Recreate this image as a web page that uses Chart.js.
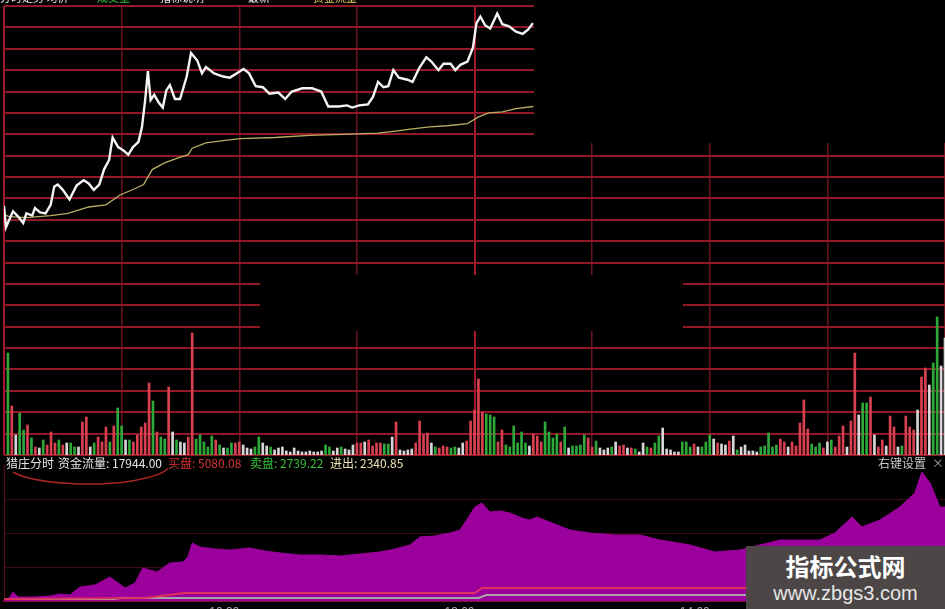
<!DOCTYPE html>
<html lang="zh-CN">
<head>
<meta charset="utf-8">
<title>猎庄分时</title>
<script src="https://cdn.jsdelivr.net/npm/chart.js@4.4.1/dist/chart.umd.min.js"></script>
<style>
html, body { margin:0; padding:0; background:#000; }
body { width:945px; height:609px; overflow:hidden; position:relative; font-family:"Noto Sans CJK SC", "Noto Sans", sans-serif; }
canvas { position:absolute; left:0; }
#priceChart { top:0; }
#flowChart { top:456px; }
.txt { position:absolute; font-size:12px; line-height:14px; white-space:nowrap; }
.head { position:absolute; top:-9px; font-size:11px; line-height:13px; white-space:nowrap; }
#mark { position:absolute; left:746px; top:546px; width:199px; height:63px; background:#4c4646; }
#mark .t1 { position:absolute; left:0; width:199px; top:6px; text-align:center; color:#fff; font-size:24px; font-weight:bold; line-height:28px; }
#mark .t2 { position:absolute; left:0; width:199px; top:35px; text-align:center; color:#e6e6e6; font-size:20px; line-height:24px; font-family:"Liberation Sans", Arial, sans-serif; }
</style>
</head>
<body>
<canvas id="priceChart" width="945" height="457"></canvas>
<canvas id="flowChart" width="945" height="166"></canvas>

<span class="head" style="left:0;color:#e8e8e8">分时走势 均价</span>
<span class="head" style="left:97px;color:#3cc03c">成交量</span>
<span class="head" style="left:160px;color:#e8e8e8">指标说明</span>
<span class="head" style="left:248px;color:#e8e8e8">最新</span>
<span class="head" style="left:313px;color:#e8d060">资金流量</span>

<span class="txt" style="left:6px;top:456px;color:#e6e6e6">猎庄分时</span>
<span class="txt" style="left:58px;top:456px;color:#e6e6e6">资金流量: 17944.00</span>
<span class="txt" style="left:168px;top:456px;color:#d83232">买盘: 5080.08</span>
<span class="txt" style="left:250px;top:456px;color:#36c036">卖盘: 2739.22</span>
<span class="txt" style="left:330px;top:456px;color:#ece2b4">进出: 2340.85</span>
<span class="txt" style="left:878px;top:456px;color:#c8c8c8">右键设置</span>
<span class="txt" style="left:932px;top:456px;color:#a0a0a0">×</span>

<div id="mark"><div class="t1">指标公式网</div><div class="t2">www.zbgs3.com</div></div>

<script>
// minutes counted from 09:30 (0) to 15:00 (240), lunch break removed
const gridMinutes = [0, 30, 60, 90, 120, 150, 180, 210, 240];
const axisLabelMinutes = [60, 120, 180];
const axisLabels = ["10:30", "13:00", "14:00"];

// price line
const priceMinutes = [0,0.5,2.3,3.6,4.9,5.7,7.2,7.9,9.2,10.6,11.9,12.8,13.7,15.0,16.7,18.5,20.3,21.6,22.9,24.3,
    25.5,26.8,27.7,29.1,30.4,31.7,32.9,34.3,35.2,36.0,36.7,37.4,38.3,39.4,40.5,41.4,42.3,43.6,44.9,46.6,
    47.7,49.3,50.5,51.5,53.6,55.9,57.6,59.4,61.1,62.5,64.2,66.0,67.7,70.0,71.7,73.4,76.1,78.6,80.9,82.7,
    85.3,87.5,88.8,90.6,92.8,94.1,95.4,96.8,98.0,99.3,100.7,102.9,104.2,105.9,107.7,109.0,110.8,112.1,113.9,115.1,
    116.4,118.2,119.6,120.5,121.5,122.7,124.0,125.8,127.1,128.8,130.6,132.3,133.7,134.9];
const priceValues = [28.13,27.93,28.08,28.03,27.97,28.06,28.04,28.11,28.07,28.06,28.14,28.31,28.33,28.28,28.19,28.32,28.37,28.34,28.28,28.33,
    28.47,28.56,28.77,28.68,28.65,28.61,28.68,28.73,28.87,29.12,29.39,29.12,29.17,29.10,29.05,29.21,29.26,29.13,29.13,29.34,
    29.56,29.49,29.37,29.43,29.37,29.34,29.33,29.37,29.41,29.37,29.25,29.24,29.18,29.19,29.13,29.20,29.23,29.23,29.20,29.06,
    29.06,29.07,29.05,29.07,29.08,29.15,29.29,29.24,29.25,29.40,29.33,29.31,29.29,29.42,29.52,29.48,29.40,29.46,29.46,29.40,
    29.45,29.48,29.61,29.84,29.90,29.82,29.79,29.93,29.83,29.81,29.76,29.74,29.78,29.84];

// average price line
const avgMinutes = [0,1.3,5.7,11.9,16.3,21.6,26.0,29.5,33.9,35.6,37.8,40.8,44.4,47.0,48.0,51.5,55.9,60.3,69.1,77.9,
    86.5,95.4,99.8,104.2,108.5,113.0,118.2,120.9,123.6,127.1,130.6,135.0];
const avgValues = [28.05,28.03,28.02,28.04,28.06,28.12,28.14,28.23,28.30,28.33,28.47,28.53,28.58,28.61,28.67,28.72,28.74,28.76,28.77,28.79,
    28.80,28.81,28.83,28.85,28.87,28.88,28.90,28.96,29.00,29.01,29.04,29.06];

// volume per minute from 09:31, direction R up / G down / W flat
const volumeValues = [
    1020,490,200,420,250,300,170,80,70,150, 100,230,120,150,100,120,120,80,80,330,
    380,80,120,180,130,280,130,290,470,290, 150,150,130,200,280,320,720,540,230,180,
    160,680,230,150,130,120,180,1220,160,200, 130,80,190,150,100,70,70,120,120,130,
    100,70,60,80,180,120,90,80,50,70, 80,40,30,70,40,30,30,40,
    30,30,40,100,80,40,70,80,60,50, 100,120,120,130,150,90,120,120,110,110,
    180,330,50,40,50,60,120,340,200,220, 120,80,70,90,80,70,80,70,120,140,
    340,450,760,430,410,400,380,130,250,100, 80,290,120,230,120,90,210,190,130,330,
    230,170,210,130,280,70,90,90,100,200, 170,80,140,70,50,70,80,130,90,100,
    70,
    70,60,30,120,80,70,120,190,270,60, 50,30,30,130,130,80,110,80,80,130,
    200,160,120,110,100,140,190,50,80,100, 40,40,30,80,90,220,80,100,160,130,
    80,130,90,320,550,260,110,80,120,70, 130,150,80,190,290,80,340,1020,400,520,
    520,580,200,80,150,90,390,280,80,90, 390,280,250,450,780,870,700,920,1380,890,
    1170];
const volumeDir = (
    "GRWGGRGRWG" + "RRRGRWGGWR" + "RWGRRRGRGG" + "WGRRRRRGRG" + "GRWGWWRRGG" + "GGGRGWGGRR" + "WWWGGWWGWW" + "WWWWWWWW" +
    "WWWGGWWGWW" + "WRRWRRRRGG" + "WRWWWWRRRR" + "WGRRRGGWWR" + "RRRRGGGRRG" + "GGGGGWRRRG" + "GGGRGWGGGG" + "RRGWWWGWRR" + "W" +
    "RGWWGRGGWW" + "WWWGGGRWGG" + "GWRWWRWGWW" + "WWWGGGGGRR" + "WRRRRRGGGR" + "WGRRRWRRWG" + "GRWRRWRRWG" + "RRRWRRWGGW" + "W"
).split("");

// 资金流量 area
const flowMinutes = [0,1.3,2.3,3.6,7.9,11.7,14.3,16.8,19.4,23.2,27.0,30.9,33.4,35.4,39.0,42.3,45.7,46.9,48.0,50.0,
    53.8,57.6,62.7,66.6,70.4,75.5,80.6,85.7,90.8,95.9,99.7,103.5,106.1,109.9,113.7,116.3,118.3,120.1,121.9,123.9,
    126.5,129.0,132.1,134.1,135.9,139.2,144.3,149.5,155.8,162.2,167.3,175.0,181.3,187.7,192.8,197.9,203.0,208.1,211.9,216.3,
    218.8,223.4,228.5,232.3,234.1,236.2,238.7,240];
const flowValues = [125,375,1125,500,500,625,875,750,1750,2000,3000,1625,2250,4125,3625,4750,4875,5500,7250,6750,
    6500,6375,6625,6250,6000,5750,5750,5625,5875,6125,6500,7000,8000,8125,8500,8875,10375,11750,12250,11125,
    11250,11000,10375,10125,10500,9875,8875,8500,8250,8250,7625,7000,6125,6375,7000,7625,7625,7625,8500,10500,
    9250,10125,11750,13500,16125,14750,11750,11750];

// 买盘 / 进出 / 卖盘 lines under the area
const buyMinutes = [0, 36, 46, 120, 122, 236, 240];
const buyValues = [250, 375, 1000, 1000, 1625, 1625, 2125];
const exitMinutes = [0, 28, 30, 121, 123, 240];
const exitValues = [250, 250, 375, 375, 750, 750];
const sellMinutes = [0, 27];
const sellValues = [250, 250];

function points(xs, ys){
    return xs.map((x, i) => ({ x: x, y: ys[i] }));
}

const dirColor = { R: "#d8404f", G: "#2fa83a", W: "#d6d6d6" };

// black patches of the screenshot that hide parts of the grid
const maskPlugin = {
    id: "masks",
    beforeDatasetsDraw(chart){
        const ctx = chart.ctx;
        ctx.save();
        ctx.fillStyle = "#000";
        ctx.fillRect(534, 0, 411, 143);
        ctx.fillRect(260, 275, 423, 56);
        ctx.restore();
    }
};

const ellipsePlugin = {
    id: "ellipse",
    afterDraw(chart){
        const ctx = chart.ctx;
        ctx.save();
        ctx.strokeStyle = "#a82424";
        ctx.lineWidth = 1.5;
        ctx.beginPath();
        ctx.ellipse(88, 8, 82, 20, 0, 0.22, Math.PI - 0.41);
        ctx.stroke();
        ctx.restore();
    }
};

const pricePlot = new Chart(document.getElementById("priceChart"), {
    type: "bar",
    data: {
        datasets: [
            {
                type: "line",
                label: "价格",
                data: points(priceMinutes, priceValues),
                yAxisID: "yPrice",
                borderColor: "#f4f4f4",
                borderWidth: 2.4,
                pointRadius: 0,
                tension: 0,
                order: 0
            },
            {
                type: "line",
                label: "均价",
                data: points(avgMinutes, avgValues),
                yAxisID: "yPrice",
                borderColor: "#b9ad62",
                borderWidth: 1.3,
                pointRadius: 0,
                tension: 0,
                order: 1
            },
            {
                type: "bar",
                label: "成交量",
                data: volumeValues.map((v, i) => ({ x: i + 1, y: v })),
                yAxisID: "yVol",
                backgroundColor: volumeDir.map(d => dirColor[d]),
                barThickness: 2,
                order: 2
            }
        ]
    },
    options: {
        responsive: false,
        animation: false,
        events: [],
        layout: { padding: { left: 4, top: 6, right: 0, bottom: 2 } },
        plugins: { legend: { display: false }, tooltip: { enabled: false } },
        scales: {
            x: {
                type: "linear",
                min: 0,
                max: 240,
                offset: false,
                ticks: { display: false, stepSize: 30 },
                grid: {
                    offset: false,
                    drawTicks: false,
                    color: c => (c.tick.value === 0 || c.tick.value === 120) ? "#a01a2c" : "#6a1422",
                    lineWidth: c => (c.tick.value === 0 || c.tick.value === 120) ? 2 : 1.5
                },
                border: { display: false }
            },
            yGrid: {
                position: "left",
                min: 0,
                max: 21,
                ticks: { display: false, stepSize: 1 },
                grid: { drawTicks: false, color: "#921828", lineWidth: 2 },
                border: { display: false }
            },
            yPrice: { display: false, min: 25.8, max: 30 },
            yVol: { display: false, min: 0, max: 4490 }
        }
    },
    plugins: [maskPlugin]
});

const flowPlot = new Chart(document.getElementById("flowChart"), {
    type: "line",
    data: {
        datasets: [
            { label: "买盘", data: points(buyMinutes, buyValues), borderColor: "#e0305c", borderWidth: 2, pointRadius: 0, order: 1 },
            { label: "进出", data: points(exitMinutes, exitValues), borderColor: "#a8a8a8", borderWidth: 2, pointRadius: 0, order: 1 },
            { label: "卖盘", data: points(sellMinutes, sellValues), borderColor: "#3aa03a", borderWidth: 1.5, pointRadius: 0, order: 2 },
            {
                label: "资金流量",
                data: points(flowMinutes, flowValues),
                borderColor: "#9c009c",
                backgroundColor: "#9c009c",
                fill: "origin",
                borderWidth: 1,
                pointRadius: 0,
                tension: 0,
                order: 3
            }
        ]
    },
    options: {
        responsive: false,
        animation: false,
        events: [],
        layout: { padding: { left: 4, top: 9, right: 0, bottom: 0 } },
        plugins: { legend: { display: false }, tooltip: { enabled: false } },
        scales: {
            x: {
                type: "linear",
                min: 0,
                max: 240,
                afterBuildTicks: axis => { axis.ticks = axisLabelMinutes.map(v => ({ value: v })); },
                afterFit: axis => { axis.height = 21; },
                ticks: {
                    align: "end",
                    padding: 4,
                    autoSkip: false,
                    maxRotation: 0,
                    color: "#b8a4a4",
                    font: { size: 12, family: "Liberation Sans" },
                    callback: v => axisLabels[axisLabelMinutes.indexOf(v)] || ""
                },
                grid: { display: false, drawTicks: false },
                border: { display: true, color: "#8a1424", width: 2 }
            },
            y: {
                min: 0,
                max: 17000,
                ticks: { display: false, stepSize: 4000 },
                grid: {
                    drawTicks: false,
                    color: c => (c.tick.value === 0 || c.tick.value === 17000) ? "rgba(0,0,0,0)" : "#3c0c12",
                    lineWidth: 1
                },
                border: { display: true, color: "#5a0c16", width: 1 }
            }
        }
    },
    plugins: [ellipsePlugin]
});
</script>
</body>
</html>
